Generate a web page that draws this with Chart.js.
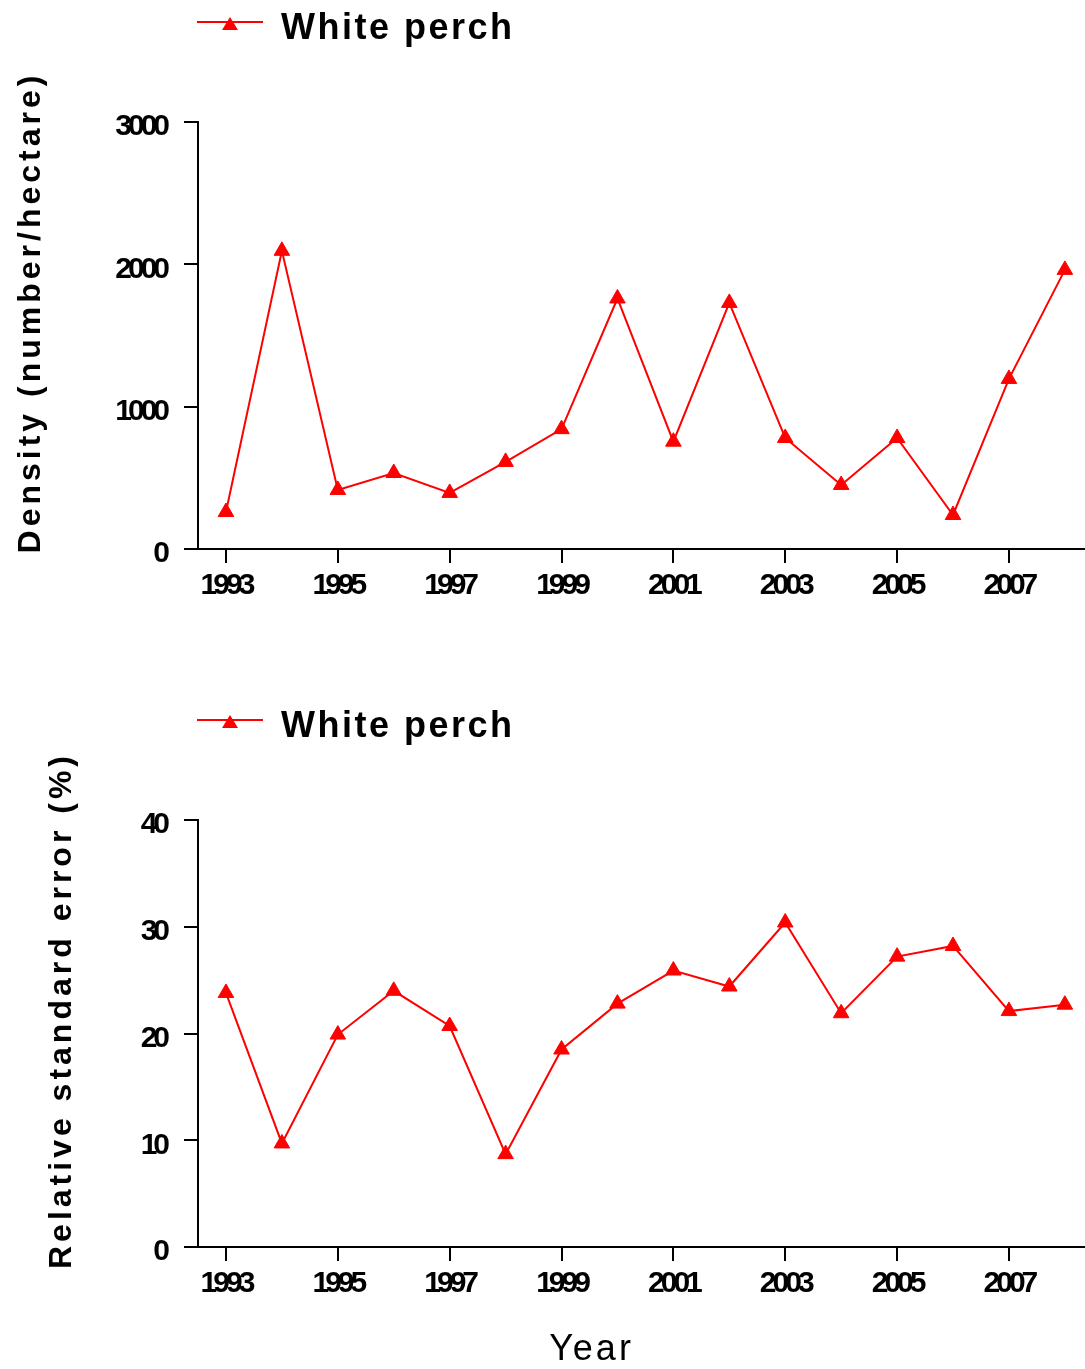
<!DOCTYPE html>
<html>
<head>
<meta charset="utf-8">
<script src="https://cdn.jsdelivr.net/npm/chart.js@4.4.0/dist/chart.umd.min.js"></script>
<style>
  html, body { margin: 0; padding: 0; background: #fff; }
  canvas { display: block; }
</style>
</head>
<body>
<canvas id="densityChart" width="1085" height="698"></canvas>
<canvas id="errorChart" width="1085" height="671"></canvas>
<script>
// data
const years = [1993, 1994, 1995, 1996, 1997, 1998, 1999, 2000, 2001, 2002, 2003, 2004, 2005, 2006, 2007, 2008];
const yearTicks = [1993, 1995, 1997, 1999, 2001, 2003, 2005, 2007];
const density = [260, 2095, 415, 534, 394, 612, 842, 1760, 754, 1729, 780, 450, 780, 239, 1195, 1961];
const densityTicks = [0, 1000, 2000, 3000];
const relError = [23.8, 9.7, 19.9, 24.0, 20.7, 8.7, 18.5, 22.8, 25.9, 24.4, 30.4, 21.9, 27.2, 28.2, 22.1, 22.7];
const relErrorTicks = [0, 10, 20, 30, 40];
const seriesName = 'White perch';

const RED = '#ff0000';
const TICK_FONT = { family: "'Liberation Sans Narrow', 'Arial Narrow', 'Liberation Sans', Arial, sans-serif", weight: 'bold', size: 30 };
const TITLE_FAMILY = "'Liberation Sans', Arial, sans-serif";

// linear scale whose title and tick labels can be letter-spaced
class TrackedScale extends Chart.LinearScale {
    drawTitle() {
        const t = this.options.title;
        const ctx = this.ctx;
        ctx.save();
        ctx.translate(t.offsetX || 0, t.offsetY || 0);
        ctx.letterSpacing = (t.spacing || 0) + 'px';
        super.drawTitle();
        ctx.restore();
    }

    drawLabels(chartArea) {
        const ctx = this.ctx;
        ctx.save();
        ctx.letterSpacing = (this.options.ticks.spacing || 0) + 'px';
        super.drawLabels(chartArea);
        ctx.restore();
    }
}
TrackedScale.id = 'tracked';
Chart.register(TrackedScale);

// line + triangle swatch used in the legend
const legendMarker = document.createElement('canvas');
legendMarker.width = 66;
legendMarker.height = 26;
const m = legendMarker.getContext('2d');
m.fillStyle = RED;
m.fillRect(0, 5, 66, 2);
m.beginPath();
m.moveTo(33, 1);
m.lineTo(41, 14);
m.lineTo(25, 14);
m.closePath();
m.fill();

// moves the legend to a fixed spot and spaces its letters
const legendPlacer = {
    id: 'legendPlacer',
    afterLayout(chart, args, opts) {
        const lg = chart.legend;
        const pad = lg.options.labels.padding;
        const dx = opts.x - pad - lg.left;
        const dy = opts.y - pad - lg.top;
        lg.left += dx; lg.right += dx;
        lg.top += dy; lg.bottom += dy;
        if (!lg.__spaced) {
            const draw = lg.draw.bind(lg);
            lg.draw = function (area) {
                chart.ctx.save();
                chart.ctx.letterSpacing = opts.spacing + 'px';
                draw(area);
                chart.ctx.restore();
            };
            lg.__spaced = true;
        }
    }
};

const axisGrid = { drawOnChartArea: false, drawTicks: true, tickLength: 14, color: '#000', lineWidth: 2 };
const axisBorder = { display: true, color: '#000', width: 2 };

function lineChart(canvasId, values, yTickValues, yTitle, yTitleInset, xTitle, xHeight) {
    const ctx = document.getElementById(canvasId).getContext('2d');
    return new Chart(ctx, {
        type: 'line',
        data: {
            datasets: [{
                label: seriesName,
                data: years.map((yr, i) => ({ x: yr, y: values[i] })),
                borderColor: RED,
                backgroundColor: RED,
                borderWidth: 2,
                tension: 0,
                pointStyle: 'triangle',
                pointRadius: 9,
                pointHoverRadius: 9,
                pointBorderWidth: 1,
                pointBackgroundColor: RED,
                pointBorderColor: RED
            }]
        },
        options: {
            responsive: false,
            animation: false,
            events: [],
            layout: { autoPadding: false, padding: { top: 66, left: 0, right: 0, bottom: 0 } },
            plugins: {
                legend: {
                    position: 'top',
                    align: 'start',
                    labels: {
                        usePointStyle: true,
                        pointStyleWidth: 66,
                        padding: 10,
                        color: '#000',
                        font: { family: TITLE_FAMILY, weight: 'bold', size: 36 },
                        generateLabels: () => [{
                            text: seriesName,
                            pointStyle: legendMarker,
                            fillStyle: RED,
                            strokeStyle: RED,
                            lineWidth: 0,
                            hidden: false,
                            datasetIndex: 0
                        }]
                    }
                },
                legendPlacer: { x: 197, y: 11, spacing: 2.5 },
                tooltip: { enabled: false }
            },
            scales: {
                x: {
                    type: 'tracked',
                    position: 'bottom',
                    min: 1992.5,
                    max: 2008.36,
                    afterBuildTicks: s => { s.ticks = yearTicks.map(v => ({ value: v })); },
                    afterFit: s => { s.height = xHeight; },
                    ticks: { font: TICK_FONT, color: '#000', padding: 5, spacing: -4, maxRotation: 0, autoSkip: false, callback: v => String(v) },
                    grid: axisGrid,
                    border: axisBorder,
                    title: {
                        display: !!xTitle,
                        text: xTitle || '',
                        color: '#000',
                        font: { family: TITLE_FAMILY, size: 36, lineHeight: 1 },
                        padding: { top: 0, bottom: 1 },
                        spacing: 3,
                        offsetX: -50
                    }
                },
                y: {
                    type: 'tracked',
                    position: 'left',
                    min: yTickValues[0],
                    max: yTickValues[yTickValues.length - 1],
                    afterBuildTicks: s => { s.ticks = yTickValues.map(v => ({ value: v })); },
                    afterFit: s => { s.width = 198; },
                    ticks: { font: TICK_FONT, color: '#000', padding: 18, spacing: -4, labelOffset: 5, callback: v => String(v) },
                    grid: axisGrid,
                    border: axisBorder,
                    title: {
                        display: true,
                        text: yTitle,
                        color: '#000',
                        font: { family: TITLE_FAMILY, weight: 'bold', size: 32 },
                        padding: { top: yTitleInset, bottom: 0 },
                        spacing: 4,
                        offsetY: -23
                    }
                }
            }
        },
        plugins: [legendPlacer]
    });
}

lineChart('densityChart', density, densityTicks, 'Density (number/hectare)', 12, null, 149);
lineChart('errorChart', relError, relErrorTicks, 'Relative standard error (%)', 43, 'Year', 122);
</script>
</body>
</html>
